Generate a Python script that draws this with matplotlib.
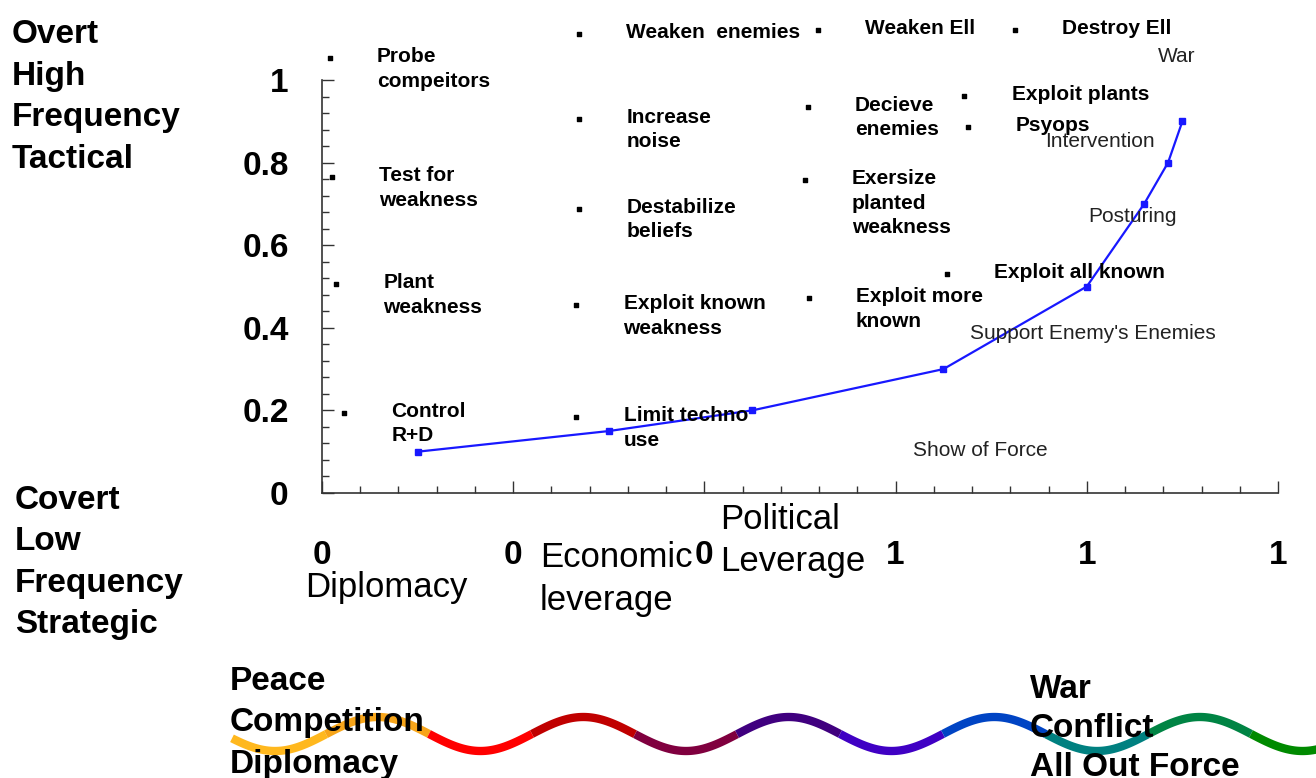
import numpy as np
import matplotlib.pyplot as plt
from matplotlib.ticker import MultipleLocator

plt.rcParams["font.family"] = ["Liberation Sans", "DejaVu Sans"]

W, H = 1316, 778

# escalation curve (blue)
curve_x = [0.10, 0.30, 0.45, 0.65, 0.80, 0.86, 0.885, 0.90]
curve_y = [0.10, 0.15, 0.20, 0.30, 0.50, 0.70, 0.80, 0.90]
stage_names = ["War", "Intervention", "Posturing", "Support Enemy's Enemies", "Show of Force"]
stage_x = [0.874, 0.756, 0.801, 0.678, 0.618]
stage_y = [1.043, 0.837, 0.657, 0.374, 0.090]

# actions (black points)
act_names = ["Probe\ncompeitors", "Weaken  enemies", "Weaken Ell", "Destroy Ell",
             "Increase\nnoise", "Decieve\nenemies", "Exploit plants", "Psyops",
             "Test for\nweakness", "Destabilize\nbeliefs", "Exersize\nplanted\nweakness",
             "Plant\nweakness", "Exploit known\nweakness", "Exploit more\nknown",
             "Exploit all known", "Control\nR+D", "Limit techno\nuse"]
act_x = [0.008, 0.269, 0.519, 0.725, 0.269, 0.508, 0.672, 0.676, 0.010,
         0.269, 0.505, 0.015, 0.266, 0.509, 0.654, 0.023, 0.266]
act_y = [1.053, 1.111, 1.121, 1.121, 0.906, 0.935, 0.961, 0.886, 0.765,
         0.688, 0.758, 0.506, 0.455, 0.472, 0.530, 0.194, 0.184]

x_ticks = [0.0, 0.2, 0.4, 0.6, 0.8, 1.0]
x_tick_labels = ["0", "0", "0", "1", "1", "1"]
y_ticks = [0.0, 0.2, 0.4, 0.6, 0.8, 1.0]
y_tick_labels = ["0", "0.2", "0.4", "0.6", "0.8", "1"]

# bottom spectrum wave, one colour per half period
wave_edges = [232, 326, 429, 532, 635, 737, 840, 943, 1046, 1148, 1251, 1320]
wave_colors = ["#FFB81E", "#F7A51A", "#FF0000", "#C00000", "#80003F", "#40007F",
               "#4000C4", "#0044C4", "#008080", "#008444", "#008A00"]


def stack(ax, x, y, lines, dy=41.5, **kw):
    for i, s in enumerate(lines):
        ax.text(x, y + i * dy, s, va="baseline", ha="left", **kw)


fig = plt.figure(figsize=(W / 100, H / 100), dpi=100)

ov = fig.add_axes([0, 0, 1, 1], zorder=0)
ov.set_xlim(0, W)
ov.set_ylim(H, 0)
ov.axis("off")

ax = fig.add_axes([322 / W, (H - 493) / H, 956 / W, 413 / H], zorder=1)
ax.set_facecolor("none")
ax.set_xlim(0, 1.0)
ax.set_ylim(0, 1.0)
for s in ("top", "right"):
    ax.spines[s].set_visible(False)
for s in ("left", "bottom"):
    ax.spines[s].set_color("#333333")
    ax.spines[s].set_linewidth(1.2)

ax.set_xticks(x_ticks, x_tick_labels, fontsize=24, fontweight="bold")
ax.set_yticks(y_ticks, y_tick_labels, fontsize=24, fontweight="bold")
ax.xaxis.set_minor_locator(MultipleLocator(0.04))
ax.yaxis.set_minor_locator(MultipleLocator(0.04))
ax.tick_params(axis="both", which="major", direction="in", length=8.5, width=1, color="#333333")
ax.tick_params(axis="both", which="minor", direction="in", length=5, width=1, color="#333333")
ax.tick_params(axis="x", which="major", pad=34)
ax.tick_params(axis="y", which="major", pad=24)

ax.plot(curve_x, curve_y, color="#1818ff", lw=1.6, marker="s", ms=5, clip_on=False, zorder=3)
for name, x, y in zip(stage_names, stage_x, stage_y):
    ax.text(x, y, name, fontsize=15, color="#222222", va="baseline", ha="left")

ax.scatter(act_x, act_y, marker="s", s=10, color="black", clip_on=False, zorder=3)
for name, x, y in zip(act_names, act_x, act_y):
    for i, line in enumerate(name.split("\n")):
        ax.annotate(line, (x, y), xytext=(34, -3 - i * 17.6), textcoords="offset points",
                    fontsize=15, fontweight="bold", va="baseline", ha="left",
                    annotation_clip=False)

# wave
for x0, x1, c in zip(wave_edges[:-1], wave_edges[1:], wave_colors):
    xs = np.linspace(x0, x1, 80)
    ys = 734 + 17 * np.cos(2 * np.pi * (xs - 275) / 205.5)
    ov.plot(xs, ys, color=c, lw=6, solid_capstyle="butt")

bold = dict(fontsize=24, fontweight="bold", color="black")
reg = dict(fontsize=25, color="black")
stack(ov, 12, 43, ["Overt", "High", "Frequency", "Tactical"], **bold)
stack(ov, 15, 509, ["Covert", "Low", "Frequency", "Strategic"], **bold)
stack(ov, 230, 690, ["Peace", "Competition", "Diplomacy"], **bold)
stack(ov, 1030, 698, ["War", "Conflict", "All Out Force"], dy=39, **bold)
stack(ov, 720, 529, ["Political", "Leverage"], **reg)
stack(ov, 540, 567, ["Economic", "leverage"], dy=43, **reg)
stack(ov, 305, 597, ["Diplomacy"], **reg)

fig.savefig("out.png", dpi=100)
